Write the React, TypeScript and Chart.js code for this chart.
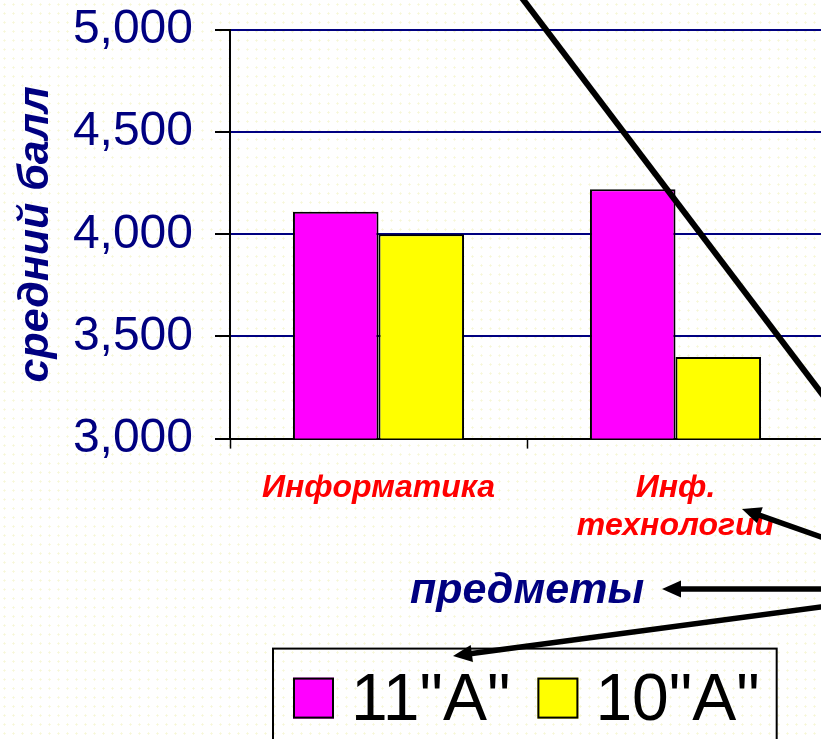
import React, { useEffect, useRef } from "react";
import { Chart, registerables } from "chart.js";

Chart.register(...registerables);

// ---- data ----
const categories: (string | string[])[] = ["Информатика", ["Инф.", "технологии"]];
const seriesNames = ['11"A"', '10"A"'];
const values11A = [4.11, 4.22];
const values10A = [4.0, 3.4];
const seriesColors = ["#FF00FF", "#FFFF00"];
const yMin = 3;
const yMax = 5;
const yStep = 0.5;
const yTitle = "средний балл";
const xTitle = "предметы";

const FONT = "'Liberation Sans', Arial, sans-serif";
const NAVY = "#000080";

// custom boxed legend (as in the slide)
const boxedLegend = {
  id: "boxedLegend",
  afterDraw(chart: any) {
    const ctx = chart.ctx as CanvasRenderingContext2D;
    const area = chart.chartArea;
    const fontSize = 66;
    const sq = 41;
    const gapSqText = 17;
    const gapItems = 27;
    const padL = 20;
    const padR = 17;
    ctx.save();
    ctx.font = `${fontSize}px ${FONT}`;
    const items = chart.data.datasets.map((d: any) => ({
      label: d.label as string,
      color: d.backgroundColor as string,
      w: ctx.measureText(d.label).width,
    }));
    let total = padL + padR;
    items.forEach((it: any, i: number) => {
      total += sq + gapSqText + it.w + (i > 0 ? gapItems : 0);
    });
    const cx = (area.left + area.right) / 2 - 2;
    const boxLeft = Math.round(cx - total / 2);
    const boxTop = area.bottom + 210;
    ctx.lineWidth = 2;
    ctx.strokeStyle = "#000";
    ctx.strokeRect(boxLeft, boxTop, total, 100);
    let x = boxLeft + padL;
    const sqTop = boxTop + 29;
    const baseline = boxTop + 71;
    items.forEach((it: any) => {
      ctx.fillStyle = it.color;
      ctx.fillRect(x, sqTop, sq, sq);
      ctx.lineWidth = 2;
      ctx.strokeStyle = "#000";
      ctx.strokeRect(x + 1, sqTop + 1, sq - 2, sq - 2);
      x += sq + gapSqText;
      ctx.fillStyle = "#000";
      ctx.textBaseline = "alphabetic";
      ctx.textAlign = "left";
      ctx.fillText(it.label, x, baseline);
      x += it.w + gapItems;
    });
    ctx.restore();
  },
};

// callout arrows drawn over the slide chart
function arrow(ctx: CanvasRenderingContext2D, tx: number, ty: number, hx: number, hy: number, head: boolean) {
  const dx = hx - tx;
  const dy = hy - ty;
  const len = Math.hypot(dx, dy);
  const ux = dx / len;
  const uy = dy / len;
  const headLen = 19;
  const headW = 17;
  const endX = head ? hx - ux * headLen * 0.8 : hx;
  const endY = head ? hy - uy * headLen * 0.8 : hy;
  ctx.beginPath();
  ctx.moveTo(tx, ty);
  ctx.lineTo(endX, endY);
  ctx.stroke();
  if (head) {
    const bx = hx - ux * headLen;
    const by = hy - uy * headLen;
    ctx.beginPath();
    ctx.moveTo(hx, hy);
    ctx.lineTo(bx - uy * headW / 2, by + ux * headW / 2);
    ctx.lineTo(bx + uy * headW / 2, by - ux * headW / 2);
    ctx.closePath();
    ctx.fill();
  }
}

const calloutArrows = {
  id: "calloutArrows",
  afterDraw(chart: any) {
    const ctx = chart.ctx as CanvasRenderingContext2D;
    ctx.save();
    ctx.strokeStyle = "#000";
    ctx.fillStyle = "#000";
    ctx.lineWidth = 6;
    arrow(ctx, 522, -2, 522 + 299 * 1.3, 393 * 1.3, false);
    ctx.lineWidth = 5.5;
    arrow(ctx, 900, 509 + 158 * 0.354, 742, 509, true);
    arrow(ctx, 900, 589, 662, 589, true);
    arrow(ctx, 900, 656 - 447 * 0.1332, 453, 656, true);
    ctx.restore();
  },
};

export default function App() {
  const ref = useRef<HTMLCanvasElement | null>(null);
  useEffect(() => {
    if (!ref.current) return;
    const chart = new Chart(ref.current, {
      type: "bar",
      data: {
        labels: categories as any,
        datasets: [
          {
            label: seriesNames[0],
            data: values11A,
            backgroundColor: seriesColors[0],
            borderColor: "#000",
            borderWidth: 2,
            categoryPercentage: 0.576,
            barPercentage: 1,
          },
          {
            label: seriesNames[1],
            data: values10A,
            backgroundColor: seriesColors[1],
            borderColor: "#000",
            borderWidth: 2,
            categoryPercentage: 0.576,
            barPercentage: 1,
          },
        ],
      },
      options: {
        responsive: false,
        animation: false,
        devicePixelRatio: 1,
        layout: { padding: { left: 0, top: 30, right: 6, bottom: 122 } },
        plugins: {
          legend: { display: false },
          tooltip: { enabled: false },
        },
        scales: {
          x: {
            grid: {
              display: true,
              drawOnChartArea: false,
              drawTicks: true,
              tickLength: 10,
              tickColor: "#000",
              tickWidth: 1.5,
            },
            border: { display: true, color: "#000", width: 2 },
            ticks: {
              color: "#FF0000",
              padding: 20,
              maxRotation: 0,
              autoSkip: false,
              font: { family: FONT, size: 32, weight: "bold", style: "italic", lineHeight: 1.2 },
            },
            title: {
              display: true,
              text: xTitle,
              color: NAVY,
              padding: { top: 0, bottom: 0 },
              font: { family: FONT, size: 43, weight: "bold", style: "italic", lineHeight: 1.2 },
            },
          },
          y: {
            min: yMin,
            max: yMax,
            afterFit: (scale: any) => {
              scale.width = 230;
              scale.paddingTop = 0;
              scale.paddingBottom = 0;
            },
            grid: {
              color: (c: any) => (c.tick && c.tick.value === yMin ? "rgba(0,0,0,0)" : NAVY),
              lineWidth: 2,
              tickLength: 15,
              tickColor: "#000",
              tickWidth: 2,
            },
            border: { display: true, color: "#000", width: 2 },
            ticks: {
              stepSize: yStep,
              color: NAVY,
              padding: 22,
              font: { family: FONT, size: 48, lineHeight: 1.2 },
              callback: (v: any) => Number(v).toFixed(3).replace(".", ","),
            },
            title: {
              display: true,
              text: yTitle,
              color: NAVY,
              padding: { top: 10, bottom: 0 },
              font: { family: FONT, size: 43, weight: "bold", style: "italic", lineHeight: 1.2 },
            },
          },
        },
      },
      plugins: [boxedLegend, calloutArrows],
    });
    return () => chart.destroy();
  }, []);

  return (
    <div
      style={{
        position: "absolute",
        left: 0,
        top: 0,
        width: 821,
        height: 739,
        overflow: "hidden",
        background: "#ffffff radial-gradient(circle, #f6f6d8 0.9px, rgba(255,255,255,0) 1.3px) 0 0 / 9px 9px",
      }}
    >
      <canvas ref={ref} width={830} height={739} style={{ display: "block" }} />
    </div>
  );
}
